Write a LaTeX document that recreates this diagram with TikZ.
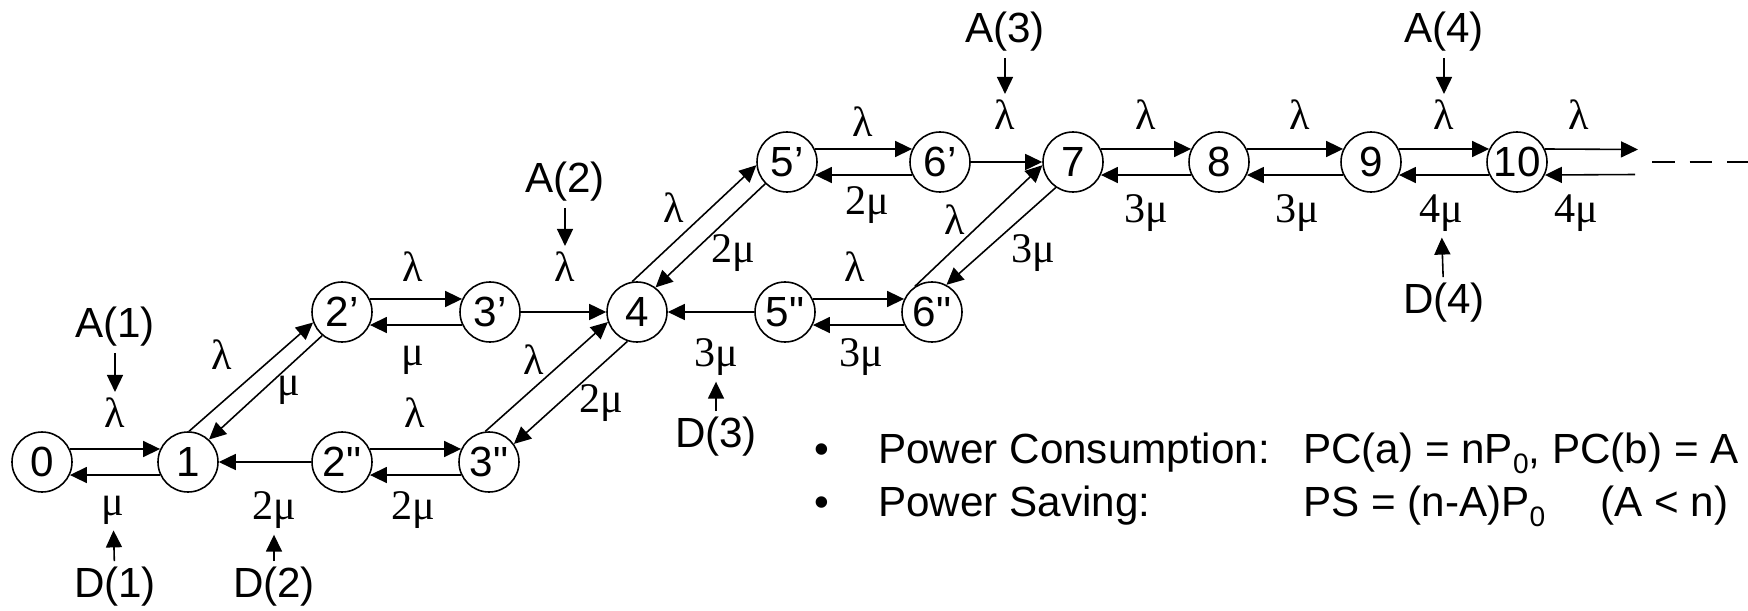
\documentclass[tikz,border=0pt]{standalone}
\usepackage{fontspec}
\setmainfont{Liberation Sans}
\newfontfamily\grk{Liberation Serif}
\usetikzlibrary{arrows.meta}
\newcommand\dprime{\XeTeXglyph\XeTeXcharglyph"22 }
\newcommand\lowsub[1]{\raisebox{-6pt}{\fontsize{16}{18}\selectfont #1}}
\tikzset{
  state/.style={draw, circle, line width=0.9pt, minimum size=1.2cm, inner sep=0pt},
  arr/.style={line width=0.9pt, -{Triangle[length=0.34cm,width=0.32cm]}},
  rate/.style={font=\grk\fontsize{24}{28}\selectfont},
  txt/.style={anchor=base west, inner sep=0pt},
}
\begin{document}
\begin{tikzpicture}[font=\fontsize{24}{28}\selectfont]
  \useasboundingbox (0,0) rectangle (34.96,12.2);
  % states
  \node[state] (n0) at (0.84,2.96) {0};
  \node[state] (n1) at (3.76,2.96) {1};
  \node[state] (n2p) at (6.84,5.96) {2’};
  \node[state] (n3p) at (9.80,5.96) {3’};
  \node[state] (n2pp) at (6.84,2.96) {2\dprime};
  \node[state] (n3pp) at (9.78,2.96) {3\dprime};
  \node[state] (n4) at (12.74,5.96) {4};
  \node[state] (n5p) at (15.74,8.96) {5’};
  \node[state] (n6p) at (18.80,8.96) {6’};
  \node[state] (n5pp) at (15.70,5.96) {5\dprime};
  \node[state] (n6pp) at (18.64,5.96) {6\dprime};
  \node[state] (n7) at (21.46,8.96) {7};
  \node[state] (n8) at (24.38,8.96) {8};
  \node[state] (n9) at (27.42,8.96) {9};
  \node[state] (n10) at (30.34,8.96) {10};
  \coordinate (out1) at (32.76,9.21);
  \coordinate (out2) at (32.70,8.71);
  \coordinate (dash1) at (33.04,8.96);
  \coordinate (dash2) at (34.96,8.96);
  % horizontal pairs
  \foreach \a/\b in {n0/n1,n2p/n3p,n2pp/n3pp,n5p/n6p,n5pp/n6pp,n7/n8,n8/n9,n9/n10}{
    \draw[arr] (\a.25) -- (\b.155);
    \draw[arr] (\b.205) -- (\a.335);
  }
  \draw[arr] (n10.25) -- (out1);
  \draw[arr] (out2) -- (n10.335);
  \draw[line width=0.9pt, dash pattern=on 0.45cm off 0.3cm] (dash1) -- (dash2);
  % single arrows
  \draw[arr] (n2pp) -- (n1);
  \draw[arr] (n3p) -- (n4);
  \draw[arr] (n5pp) -- (n4);
  \draw[arr] (n6p) -- (n7);
  % diagonal pairs
  \draw[arr] (n1.88) -- (n2p.200);
  \draw[arr] (n2p.230) -- (n1.47);
  \draw[arr] (n3pp.97) -- (n4.199);
  \draw[arr] (n4.252) -- (n3pp.36);
  \draw[arr] (n4.99) -- (n5p.186);
  \draw[arr] (n5p.225) -- (n4.53);
  \draw[arr] (n6pp.124) -- (n7.186);
  \draw[arr] (n7.236) -- (n6pp.62);
  % rates
  \node[rate] (l01) at (2.30,3.94) {λ};
  \node[rate] (m01) at (2.26,2.00) {μ};
  \node[rate] (l12) at (4.44,5.10) {λ};
  \node[rate] (m12) at (5.78,4.40) {μ};
  \node[rate] (l23p) at (8.26,6.86) {λ};
  \node[rate] (m23p) at (8.26,5.00) {μ};
  \node[rate] (l23pp) at (8.30,3.94) {λ};
  \node[rate] (m23pp) at (8.26,2.00) {2μ};
  \node[rate] (m12pp) at (5.48,2.00) {2μ};
  \node[rate] (l34pp) at (10.68,5.00) {λ};
  \node[rate] (m34pp) at (12.02,4.14) {2μ};
  \node[rate] (l34p) at (11.30,6.86) {λ};
  \node[rate] (l45p) at (13.48,8.04) {λ};
  \node[rate] (m45p) at (14.66,7.14) {2μ};
  \node[rate] (l56p) at (17.26,9.76) {λ};
  \node[rate] (m56p) at (17.34,8.10) {2μ};
  \node[rate] (l56pp) at (17.10,6.86) {λ};
  \node[rate] (m56pp) at (17.22,5.06) {3μ};
  \node[rate] (m45pp) at (14.32,5.06) {3μ};
  \node[rate] (l67pp) at (19.10,7.80) {λ};
  \node[rate] (m67pp) at (20.66,7.14) {3μ};
  \node[rate] (l67p) at (20.10,9.90) {λ};
  \node[rate] (l78) at (22.92,9.90) {λ};
  \node[rate] (m78) at (22.92,7.94) {3μ};
  \node[rate] (l89) at (26.00,9.90) {λ};
  \node[rate] (m89) at (25.94,7.94) {3μ};
  \node[rate] (l910) at (28.88,9.90) {λ};
  \node[rate] (m910) at (28.82,7.94) {4μ};
  \node[rate] (l10) at (31.58,9.90) {λ};
  \node[rate] (m10) at (31.52,7.94) {4μ};
  % arrivals and departures
  \node (a1) at (2.30,5.66) {A(1)};
  \node (d1) at (2.30,0.46) {D(1)};
  \node (d2) at (5.48,0.46) {D(2)};
  \node (a2) at (11.30,8.56) {A(2)};
  \node (d3) at (14.32,3.46) {D(3)};
  \node (a3) at (20.10,11.56) {A(3)};
  \node (a4) at (28.88,11.56) {A(4)};
  \node (d4) at (28.88,6.14) {D(4)};
  \draw[arr] (a1) -- (l01);
  \draw[arr] (d1) -- (m01);
  \draw[arr] (d2) -- (m12pp);
  \draw[arr] (a2) -- (l34p);
  \draw[arr] (d3) -- (m45pp);
  \draw[arr] (a3) -- (l67p);
  \draw[arr] (a4) -- (l910);
  \draw[arr] (d4) -- (m910);
  % power text
  \node[anchor=base, inner sep=0pt] (b1) at (16.44,2.94) {•};
  \node[txt] (pc) at (17.56,2.94) {Power Consumption:};
  \node[txt] (pcf) at (26.06,2.94) {PC(a) = nP\lowsub{0}, PC(b) = A};
  \node[anchor=base, inner sep=0pt] (b2) at (16.44,1.88) {•};
  \node[txt] (ps) at (17.56,1.88) {Power Saving:};
  \node[txt] (psf) at (26.06,1.88) {PS = (n-A)P\lowsub{0}};
  \node[txt] (psc) at (32.00,1.88) {(A < n)};
\end{tikzpicture}
\end{document}
